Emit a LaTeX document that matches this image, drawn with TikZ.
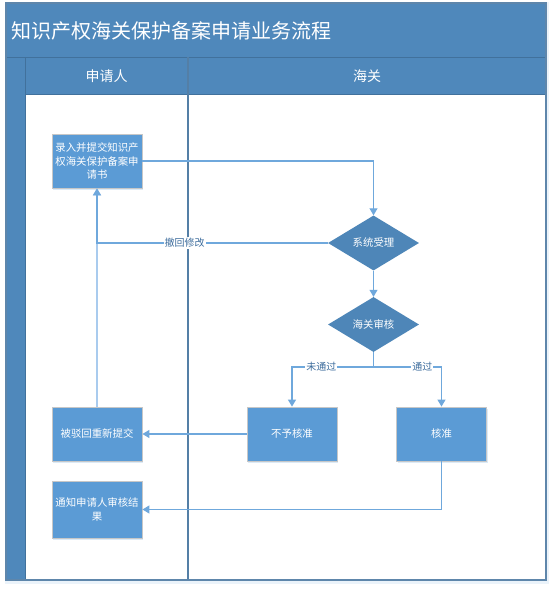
\documentclass[tikz,border=0pt]{standalone}
\usepackage{fontspec}
\setmainfont{Noto Sans CJK SC}
\usetikzlibrary{arrows.meta,shapes.geometric,shadows}
\definecolor{barblue}{HTML}{4F88BB}
\definecolor{edgeblue}{HTML}{41719C}
\definecolor{boxblue}{HTML}{5B9BD5}
\definecolor{diablue}{HTML}{4E86B8}
\definecolor{linemid}{HTML}{6FA8DC}
\definecolor{linelight}{HTML}{A9CBEE}
\definecolor{labelblue}{HTML}{3F6E9E}
\tikzset{
  procbox/.style={rectangle, draw=black!22, line width=0.8pt, fill=boxblue, text=white,
    minimum width=90pt, minimum height=54pt, text width=86pt, align=center,
    font=\fontsize{10.4}{13.5}\selectfont, inner sep=2pt,
    drop shadow={shadow xshift=1.2pt, shadow yshift=-1.5pt, fill=boxblue!35, opacity=.6}},
  decision/.style={diamond, fill=diablue, text=white, aspect=1.65, inner sep=0pt,
    minimum width=91pt, minimum height=55pt, font=\fontsize{10.4}{14}\selectfont},
  flow/.style={draw=linemid, line width=1.1pt, -{Triangle[width=8pt,length=7pt]}},
  flowlight/.style={draw=linelight, line width=1.1pt, -{Triangle[width=8pt,length=7pt,fill=linemid]}},
  lbl/.style={fill=white, text=labelblue, inner sep=1pt, font=\fontsize{10}{12}\selectfont},
}
\begin{document}
\begin{tikzpicture}[x=1pt,y=-1pt]
\useasboundingbox (0,0) rectangle (553,589);
% outer frame with glow
\fill[boxblue!12] (5,2) rectangle (549,584);
\fill[white] (6,3) rectangle (546,580);
% title bar
\fill[barblue] (6,3) rectangle (546,57);
\node[anchor=west, text=white, font=\fontsize{20}{24}\selectfont, inner sep=0pt] (title) at (11,30.5) {知识产权海关保护备案申请业务流程};
% header row
\fill[barblue] (6,57) rectangle (546,94);
% left strip
\fill[barblue] (6,57) rectangle (25,580);
\node[text=white, font=\fontsize{14}{16}\selectfont] (h1) at (106.5,76) {申请人};
\node[text=white, font=\fontsize{14}{16}\selectfont] (h2) at (367,76) {海关};
% lines
\draw[edgeblue, line width=1pt] (6,57) -- (546,57);
\draw[edgeblue, line width=1pt] (25,94) -- (546,94);
\draw[edgeblue, line width=1pt] (25,57) -- (25,580);
\draw[edgeblue!90, line width=1.6pt] (188,57) -- (188,580);
\draw[edgeblue!85, line width=1.2pt] (6,3) rectangle (546,580);
% nodes
\node[procbox] (b1) at (97,161) {录入并提交知识产\\权海关保护备案申\\请书};
\node[decision] (d1) at (373.5,243) {系统受理};
\node[decision] (d2) at (373.5,324.5) {海关审核};
\node[procbox] (b2) at (97,434) {被驳回重新提交};
\node[procbox] (b3) at (292,434) {不予核准};
\node[procbox] (b4) at (441.5,434) {核准};
\node[procbox, minimum height=57pt] (b5) at (97,509.5) {通知申请人审核结\\果};
\coordinate (split) at (373.5,367);
% connectors
\draw[flowlight] (b2.north) -- (b1.south);
\draw[flow] (b1.east) -| (d1.north);
\draw[flow] (d1.west) -| node[lbl, pos=0.31] {撤回修改} (b1.south);
\draw[flow] (d1.south) -- (d2.north);
\draw[draw=linemid, line width=1.1pt] (d2.south) -- (split);
\draw[flow] (split) -| node[lbl, pos=0.32] {未通过} (b3.north);
\draw[flow] (split) -| node[lbl, pos=0.36] {通过} (b4.north);
\draw[flow] (b3.west) -- (b2.east);
\draw[flow] (b4.south) |- (b5.east);
\end{tikzpicture}
\end{document}
